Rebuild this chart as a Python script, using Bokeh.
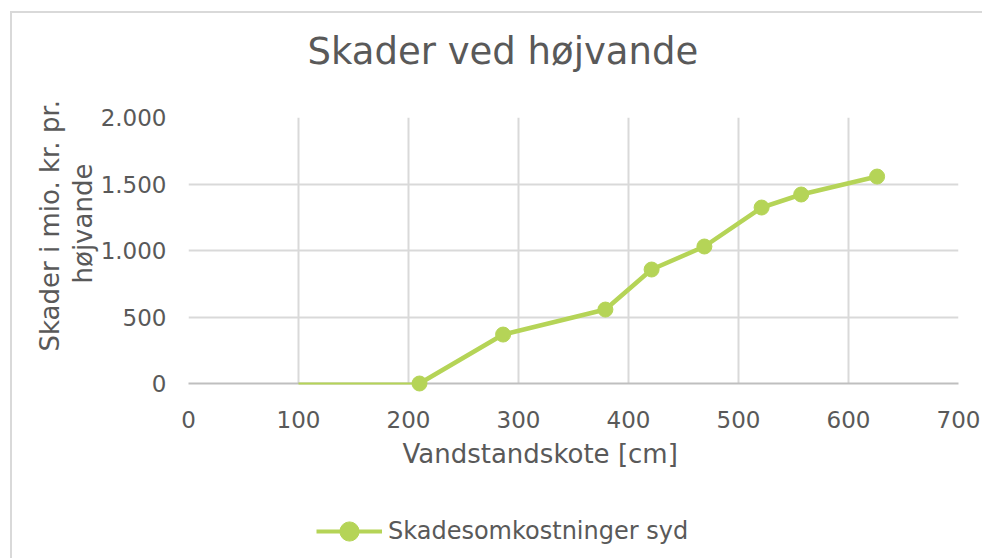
from bokeh.plotting import figure
from bokeh.layouts import column
from bokeh.models import (Title, Legend, LegendItem, FixedTicker, Range1d,
                          ColumnDataSource)
from bokeh.embed import file_html
from bokeh.resources import INLINE

# ---- data ----
vandstand = [210, 286, 379, 421, 469, 521, 557, 626]
skader = [0, 368, 556, 857, 1030, 1323, 1421, 1556]
base_x = [100, 210]
base_y = [0, 0]
x_ticks = [0, 100, 200, 300, 400, 500, 600, 700]
y_ticks = [0, 500, 1000, 1500, 2000]
y_tick_labels = ["0", "500", "1.000", "1.500", "2.000"]
series_name = "Skadesomkostninger syd"
chart_title = "Skader ved højvande"
x_label = "Vandstandskote [cm]"
y_label_1 = "Skader i mio. kr. pr."
y_label_2 = "højvande"

GREEN = "#b5d457"
TXT = "#595959"
FONT = "DejaVu Sans"

p = figure(width=982, height=490,
           x_range=Range1d(0, 700), y_range=Range1d(0, 2000),
           output_backend="svg", toolbar_location=None,
           min_border_left=188, min_border_right=24,
           min_border_top=117, min_border_bottom=107)
p.outline_line_color = None
p.background_fill_color = "white"
p.border_fill_alpha = 0

# grids
p.xgrid.ticker = FixedTicker(ticks=x_ticks)
p.ygrid.ticker = FixedTicker(ticks=y_ticks)
for g in (p.xgrid, p.ygrid):
    g.grid_line_color = "#d9d9d9"
    g.grid_line_width = 2

# axes
p.xaxis.ticker = FixedTicker(ticks=x_ticks)
p.yaxis.ticker = FixedTicker(ticks=y_ticks)
p.yaxis.major_label_overrides = {t: l for t, l in zip(y_ticks, y_tick_labels)}
for ax in (p.xaxis, p.yaxis):
    ax.major_tick_line_color = None
    ax.minor_tick_line_color = None
    ax.major_label_text_font = FONT
    ax.major_label_text_font_size = "23px"
    ax.major_label_text_color = TXT
p.xaxis.major_label_standoff = 21
p.yaxis.major_label_standoff = 16
p.xaxis.axis_line_color = "#bfbfbf"
p.xaxis.axis_line_width = 2
p.yaxis.axis_line_color = None

# blank spacer between frame and title
p.add_layout(Title(text=" ", text_font_size="10px", standoff=32), "above")
# title (outermost)
p.title.text = chart_title
p.title.align = "left"
p.title.offset = 119
p.title.text_font = FONT
p.title.text_font_size = "37px"
p.title.text_font_style = "normal"
p.title.text_color = TXT
p.title.standoff = 0

# x axis label as a title below
p.add_layout(Title(text=x_label, align="left", offset=214, text_font=FONT,
                   text_font_size="26px", text_font_style="normal",
                   text_color=TXT, standoff=12), "below")

# y axis label, two lines
p.add_layout(Title(text=y_label_2, align="left", offset=100, text_font=FONT,
                   text_font_size="26px", text_font_style="normal",
                   text_color=TXT, standoff=0), "left")
p.add_layout(Title(text=y_label_1, align="left", offset=32, text_font=FONT,
                   text_font_size="26px", text_font_style="normal",
                   text_color=TXT, standoff=2), "left")

# data
bl = p.line(base_x, base_y, line_color=GREEN, line_width=2)
src = ColumnDataSource(dict(x=vandstand, y=skader))
lr = p.line("x", "y", source=src, line_color=GREEN, line_width=4.5)
sr = p.scatter("x", "y", source=src, size=15, fill_color=GREEN,
               line_color=GREEN)
for r in (bl, lr, sr):
    r.level = "overlay"

# legend strip below the chart (placeholder point lies outside its range)
p2 = figure(width=982, height=68, x_range=Range1d(0, 1), y_range=Range1d(0, 1),
            x_axis_type=None, y_axis_type=None,
            output_backend="svg", toolbar_location=None, min_border=0)
p2.outline_line_color = None
p2.background_fill_alpha = 0
p2.border_fill_alpha = 0
p2.xgrid.visible = False
p2.ygrid.visible = False
leg_src = ColumnDataSource(dict(x=[-5], y=[-5]))
leg_line = p2.line("x", "y", source=leg_src, line_color=GREEN, line_width=4)
leg_mark = p2.scatter("x", "y", source=leg_src, size=19, fill_color=GREEN,
                      line_color=GREEN)
legend = Legend(items=[LegendItem(label=series_name,
                                  renderers=[leg_line, leg_mark])],
                location=(128, 3), orientation="horizontal",
                glyph_width=66, glyph_height=48, label_standoff=6,
                padding=0, margin=0, border_line_color=None,
                background_fill_alpha=0,
                label_text_font=FONT, label_text_font_size="24px",
                label_text_color=TXT)
p2.add_layout(legend)

layout = column(p, p2, spacing=0)
layout.styles = {"box-shadow": "inset 10px 11px 0 0 white, inset 12px 13px 0 0 #d9d9d9",
                 "background-color": "white"}

open("out.html", "w").write(file_html(layout, INLINE))
